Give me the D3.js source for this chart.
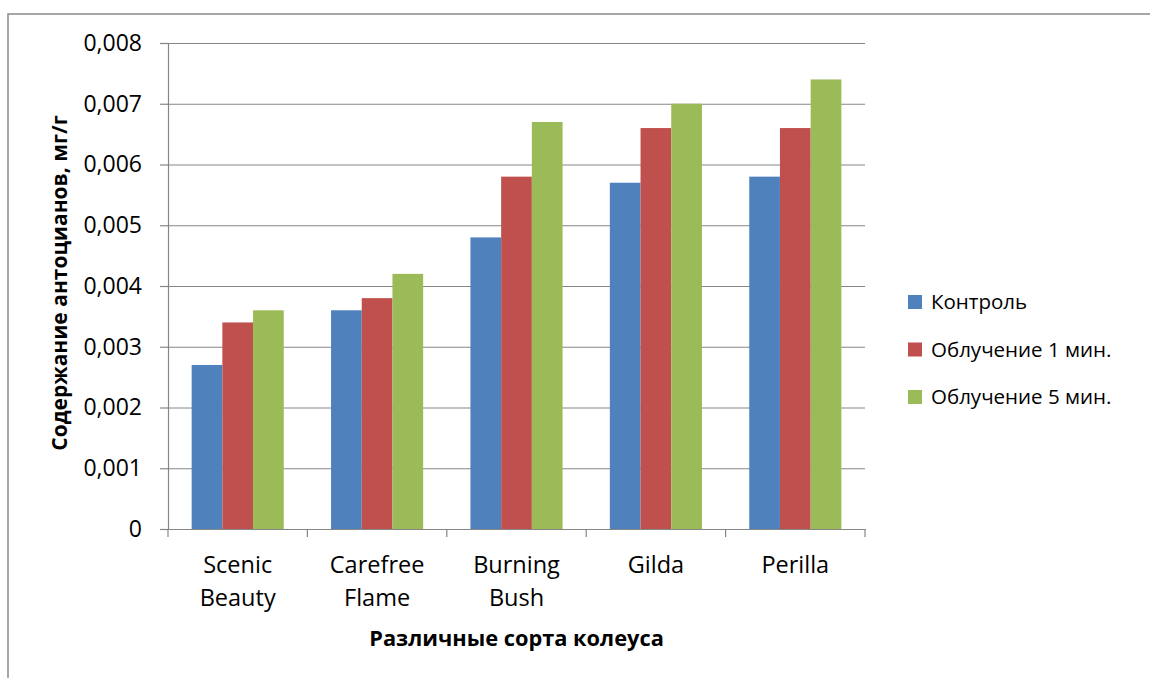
<!DOCTYPE html>
<html><head><meta charset="utf-8">
<script src="https://cdn.jsdelivr.net/npm/d3@7"></script>
<style>
html,body{margin:0;padding:0;background:#fff;}
text{font-family:"Open Sans","Noto Sans",sans-serif;fill:#000;}
</style></head>
<body>
<svg id="chart" width="1150" height="678"></svg>
<script>
const categories = ["Scenic Beauty", "Carefree Flame", "Burning Bush", "Gilda", "Perilla"];
const seriesNames = ["Контроль", "Облучение 1 мин.", "Облучение 5 мин."];
const control = [0.0027, 0.0036, 0.0048, 0.0057, 0.0058];
const irradiation1 = [0.0034, 0.0038, 0.0058, 0.0066, 0.0066];
const irradiation5 = [0.0036, 0.0042, 0.0067, 0.0070, 0.0074];
const yTickValues = [0, 0.001, 0.002, 0.003, 0.004, 0.005, 0.006, 0.007, 0.008];
const yTickLabels = ["0", "0,001", "0,002", "0,003", "0,004", "0,005", "0,006", "0,007", "0,008"];
const yTitle = "Содержание антоцианов, мг/г";
const xTitle = "Различные сорта колеуса";

const colors = ["#4F81BD", "#C0504D", "#9BBB59"];
const seriesValues = [control, irradiation1, irradiation5];

const svg = d3.select("#chart");
const L = 168, R = 865, T = 43, B = 529;

svg.append("rect").attr("width",1150).attr("height",678).attr("fill","#fff");
// outer border
svg.append("path").attr("d","M8,678 L8,14 L1150,14").attr("fill","none")
  .attr("stroke","#8a8a8a").attr("stroke-width",1.5);

const y = d3.scaleLinear().domain([0,0.008]).range([B,T]);
const x = d3.scaleBand().domain(categories).range([L,R]).paddingInner(0).paddingOuter(0);
const x1 = d3.scaleBand().domain(seriesNames).range([0,x.bandwidth()]).paddingInner(0).paddingOuter(0.77);

// gridlines
const grid = svg.append("g").attr("transform",`translate(${L},0)`)
  .call(d3.axisLeft(y).tickValues(yTickValues).tickSize(-(R-L)).tickFormat(""));
grid.select(".domain").remove();
grid.selectAll("line").attr("stroke","#868686").attr("stroke-width",1);

// bars
categories.forEach((c,ci)=>{
  seriesNames.forEach((s,si)=>{
    const v = seriesValues[si][ci];
    svg.append("rect")
      .attr("x", x(c)+x1(s))
      .attr("y", y(v))
      .attr("width", x1.bandwidth())
      .attr("height", y(0)-y(v))
      .attr("fill", colors[si]);
  });
});

// y axis
const yAxis = svg.append("g").attr("transform",`translate(${L},0)`)
  .call(d3.axisLeft(y).tickValues(yTickValues).tickSize(8).tickPadding(18)
    .tickFormat((d,i)=>yTickLabels[i]));
yAxis.select(".domain").attr("stroke","#868686").attr("stroke-width",1.2);
yAxis.selectAll(".tick line").attr("stroke","#868686").attr("stroke-width",1.2);
yAxis.selectAll("text").attr("font-size",23).attr("font-family","'Open Sans'").attr("fill","#000");

// x axis
const xAxis = svg.append("g").attr("transform",`translate(0,${B})`)
  .call(d3.axisBottom(x).tickSize(0).tickFormat(""));
xAxis.select(".domain").attr("stroke","#868686").attr("stroke-width",1.2);
const bounds = [x(categories[0])].concat(categories.map(c=>x(c)+x.bandwidth()));
xAxis.selectAll(".bt").data(bounds).enter().append("line").attr("class","bt")
  .attr("x1",d=>d).attr("x2",d=>d).attr("y1",0).attr("y2",8)
  .attr("stroke","#868686").attr("stroke-width",1.2);

// category labels
categories.forEach(c=>{
  const words = c.split(" ");
  const t = svg.append("text").attr("text-anchor","middle").attr("font-size",23.5);
  words.forEach((w,i)=>{
    t.append("tspan").attr("x", x(c)+x.bandwidth()/2).attr("y", 573 + i*32.5).text(w);
  });
});

// axis titles
svg.append("text").attr("x",(L+R)/2).attr("y",646).attr("text-anchor","middle")
  .attr("font-size",21.8).attr("font-weight","bold").text(xTitle);
svg.append("text").attr("transform",`translate(67,${(T+B)/2 - 3}) rotate(-90)`)
  .attr("text-anchor","middle").attr("font-size",21).attr("font-weight","bold").text(yTitle);

// legend
const legend = svg.append("g");
const legY = [302, 349.5, 397];
seriesNames.forEach((s,i)=>{
  legend.append("rect").attr("x",908).attr("y",legY[i]-7).attr("width",14).attr("height",14).attr("fill",colors[i]);
  legend.append("text").attr("x",931).attr("y",legY[i]).attr("dy","0.36em")
    .attr("font-size",20.5).text(s);
});
</script>
</body></html>
